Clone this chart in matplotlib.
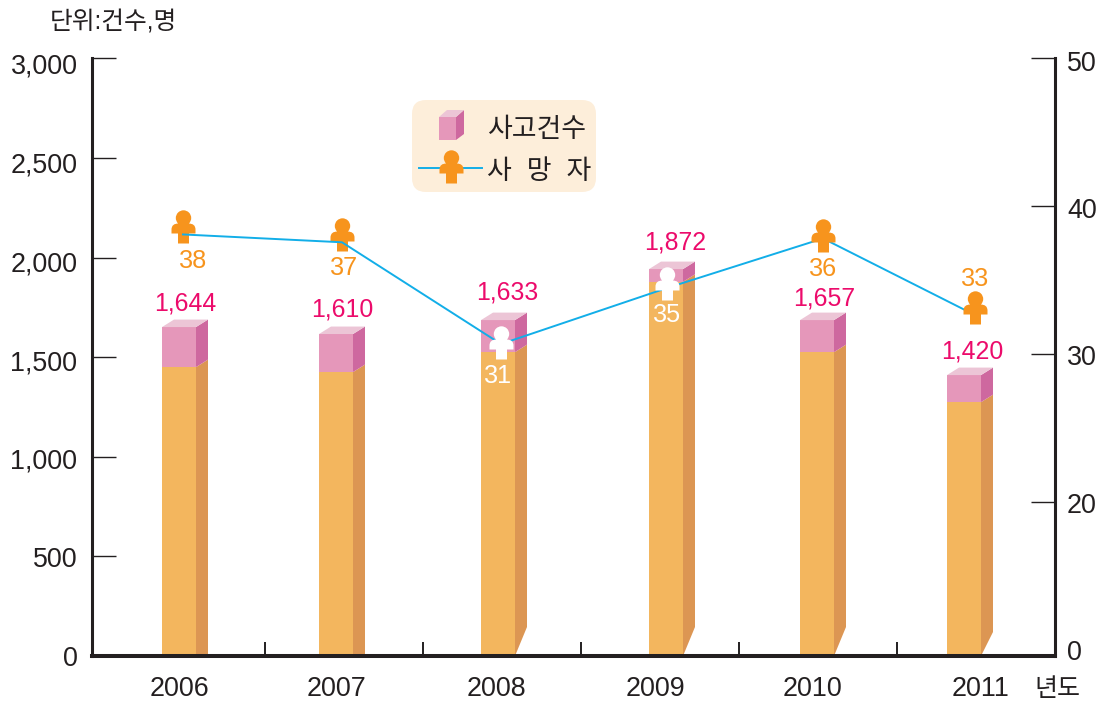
import numpy as np
import matplotlib
matplotlib.use('Agg')
import matplotlib.pyplot as plt
from matplotlib.lines import Line2D
from matplotlib.patches import FancyBboxPatch, Polygon
from matplotlib.path import Path
from matplotlib.transforms import ScaledTranslation, IdentityTransform

plt.rcParams['font.family'] = ['Liberation Sans', 'Noto Sans CJK KR']

# Data
years = ['2006', '2007', '2008', '2009', '2010', '2011']
bar_labels = ['1,644', '1,610', '1,633', '1,872', '1,657', '1,420']
death_labels = ['38', '37', '31', '35', '36', '33']
bar_top = [1651, 1616, 1686, 1942, 1686, 1410]
bar_split = [1450, 1425, 1525, 1878, 1525, 1274]
death_drawn = [38.09, 37.56, 30.68, 34.47, 37.82, 32.64]
left_ticks = [0, 500, 1000, 1500, 2000, 2500, 3000]
left_ticklabels = ['0', '500', '1,000', '1,500', '2,000', '2,500', '3,000']
right_ticks = [10, 20, 30, 40, 50]
right_ticklabels = ['0', '20', '30', '40', '50']

# Colours
INK = '#231f20'
ORANGE_FRONT = '#f3b65e'
ORANGE_SIDE = '#dc9653'
PINK_FRONT = '#e597ba'
PINK_SIDE = '#ce689f'
PINK_TOP = '#ecc5d6'
PERSON = '#f7941d'
LINE = '#12aee8'
LABEL_PINK = '#ec0b6b'
LEGEND_BG = '#fdeeda'

W, H, DPI = 1104, 703, 100
PX = 72 / DPI
STEP = 158.0  # pixels per year
RIGHT_SCALE = 14.79  # pixels per unit on the right axis
FS = 19.4

# Layout offsets in pixels, the original is hand placed
bar_shift = np.array([-7, -8, -4, 6, -1, -12]) / STEP
person_shift = np.array([-3, -2, -1, 7, 5, -1]) / STEP
person_drop = np.array([0, 0, 5.5, 3.5, 4.5, 0])
label_shift = np.array([-7, -7, -6, -5, -5, 5]) / STEP
side_cut = [0, 0, 29, 29, 29, 24]
bar_label_off = [(6, 24), (6, 25), (9, 28), (9, 27), (7, 22), (8, 24)]
death_label_off = [(10, -26.5), (2, -26), (-3, -32), (0, -27), (0, -30.5), (0, 36)]
left_label_drop = [0, 1, 2, 3, 4, 5, 5]
right_label_drop = [0, 1, 1, 2, 3]
person_color = [PERSON, PERSON, 'white', 'white', PERSON, PERSON]

fig = plt.figure(figsize=(W / DPI, H / DPI), dpi=DPI)
ax = fig.add_axes([92 / W, (H - 656) / H, 963 / W, 597.7 / H])
ax.set_xlim(-94 / STEP, 869 / STEP)
ax.set_ylim(0, 3000)
px_y = 3000 / 597.7

x = np.arange(len(years))
bar_x = x + bar_shift
width = 34 / STEP
dx = 12 / STEP
dy = 7.5 * px_y

ax.bar(bar_x, bar_split, width=width, color=ORANGE_FRONT, linewidth=0, zorder=2)
ax.bar(bar_x, np.array(bar_top) - np.array(bar_split), bottom=bar_split, width=width,
       color=PINK_FRONT, linewidth=0, zorder=2)

for cx, top, split, cut in zip(bar_x, bar_top, bar_split, side_cut):
    r = cx + width / 2
    l = cx - width / 2
    # side faces and top face
    ax.add_patch(Polygon([(r, 0), (r + dx, cut * px_y), (r + dx, split + dy), (r, split)],
                         facecolor=ORANGE_SIDE, linewidth=0, zorder=2))
    ax.add_patch(Polygon([(r, split), (r + dx, split + dy), (r + dx, top + dy), (r, top)],
                         facecolor=PINK_SIDE, linewidth=0, zorder=2))
    ax.add_patch(Polygon([(l, top), (r, top), (r + dx, top + dy), (l + dx, top + dy)],
                         facecolor=PINK_TOP, linewidth=0, zorder=2))

for cx, top, txt, off in zip(bar_x, bar_top, bar_labels, bar_label_off):
    ax.annotate(txt, (cx, top), xytext=(off[0] * PX, off[1] * PX), textcoords='offset points',
                ha='center', va='center', fontsize=17.9, color=LABEL_PINK, zorder=5)

# Axes styling
ax.spines['top'].set_visible(False)
ax.spines['left'].set_linewidth(2.2)
ax.spines['left'].set_color(INK)
ax.spines['bottom'].set_linewidth(2.9)
ax.spines['bottom'].set_color(INK)
ax.spines['right'].set_visible(False)
ax.set_yticks(left_ticks, labels=left_ticklabels)
ax.tick_params(axis='y', direction='in', length=24 * PX, width=1.0, color=INK,
               labelsize=FS, labelcolor=INK, pad=14.5 * PX)
ax.set_xticks(x[:-1] + 0.5, labels=[''] * 5)
ax.tick_params(axis='x', which='major', direction='in', length=14 * PX, width=1.4, color=INK)
ax.set_xticks(x + label_shift, labels=years, minor=True)
ax.tick_params(axis='x', which='minor', length=0, labelsize=FS, labelcolor=INK, pad=20 * PX)
for lab, drop in zip(ax.get_yticklabels(), left_label_drop):
    lab.set_transform(lab.get_transform() + ScaledTranslation(0, -drop / DPI, fig.dpi_scale_trans))

# Right axis, the 0 label sits where 10 would be
ax2 = ax.twinx()
ax2.set_ylim(50 - 597.7 / RIGHT_SCALE, 50)
ax2.patch.set_visible(False)
for s in ['top', 'left', 'bottom']:
    ax2.spines[s].set_visible(False)
ax2.spines['right'].set_linewidth(2.2)
ax2.spines['right'].set_color(INK)
ax2.set_yticks(right_ticks, labels=right_ticklabels)
ax2.tick_params(axis='y', direction='in', length=24 * PX, width=1.0, color=INK,
                labelsize=FS, labelcolor=INK, pad=12 * PX)
ax2.yaxis.get_major_ticks()[0].tick2line.set_visible(False)
for lab, drop in zip(ax2.get_yticklabels(), right_label_drop):
    lab.set_transform(lab.get_transform() + ScaledTranslation(0, -drop / DPI, fig.dpi_scale_trans))


def person_marker():
    head = Path.circle((0, 16.5), 7.7)
    # same winding as the circle so the overlap stays filled
    verts = [(12, 1), (12, 5), (12, 11), (5, 11), (-5, 11), (-12, 11), (-12, 5), (-12, 1),
             (-5.5, 1), (-5.5, -9), (5.5, -9), (5.5, 1), (12, 1)]
    codes = [Path.MOVETO, Path.LINETO, Path.CURVE3, Path.CURVE3, Path.LINETO, Path.CURVE3,
             Path.CURVE3, Path.LINETO, Path.LINETO, Path.LINETO, Path.LINETO, Path.LINETO,
             Path.CLOSEPOLY]
    return Path.make_compound_path(head, Path(verts, codes))


marker = person_marker()
MS = 2 * 24.2 * PX
person_x = x + person_shift
person_y = np.array(death_drawn) - person_drop / RIGHT_SCALE
ax2.plot(person_x, death_drawn, color=LINE, linewidth=1.4, zorder=3)
for i, (px_, val, col) in enumerate(zip(person_x, person_y, person_color)):
    # the first two figures sit under the line, the others on top of it
    ax2.plot([px_], [val], marker=marker, ms=MS, mew=0, color=col, linestyle='none',
             zorder=2 if i < 2 else 4)
for px_, val, txt, off, col in zip(person_x, death_drawn, death_labels, death_label_off, person_color):
    ax2.annotate(txt, (px_, val), xytext=(off[0] * PX, off[1] * PX), textcoords='offset points',
                 ha='center', va='center', fontsize=18.2, color=col, zorder=5)


def fx(px_):
    return px_ / W


def fy(py):
    return 1 - py / H


# Legend, drawn by hand like the original
box = FancyBboxPatch((412 + 12, H - 192 + 12), 184 - 24, 92 - 24,
                     boxstyle='round,pad=12,rounding_size=14', facecolor=LEGEND_BG, linewidth=0,
                     transform=IdentityTransform(), zorder=6)
fig.add_artist(box)
cube_faces = [
    ([(439, 117), (456, 117), (456, 140), (439, 140)], PINK_FRONT),
    ([(456, 117), (464, 110), (464, 134), (456, 140)], PINK_SIDE),
    ([(439, 117), (447, 110), (464, 110), (456, 117)], PINK_TOP),
]
for pts, col in cube_faces:
    fig.add_artist(Polygon([(fx(a), fy(b)) for a, b in pts], facecolor=col, linewidth=0,
                           transform=fig.transFigure, zorder=7))
fig.add_artist(Line2D([fx(419), fx(482)], [fy(168), fy(168)], color=LINE, linewidth=1.4,
                      transform=fig.transFigure, zorder=7))
fig.add_artist(Line2D([fx(451)], [fy(174)], marker=marker, ms=MS, mew=0, color=PERSON,
                      linestyle='none', transform=fig.transFigure, zorder=8))
fig.text(fx(487), fy(130), '사고건수', fontsize=19.4, color=INK, ha='left', va='center', zorder=9)
fig.text(fx(487), fy(172), '사  망  자', fontsize=19.4, color=INK, ha='left', va='center', zorder=9)

fig.text(fx(50), fy(22), '단위:건수,명', fontsize=17.8, color=INK, ha='left', va='center')
fig.text(fx(1034), fy(689), '년도', fontsize=18, color=INK, ha='left', va='center')

fig.savefig('out.png', dpi=DPI)
